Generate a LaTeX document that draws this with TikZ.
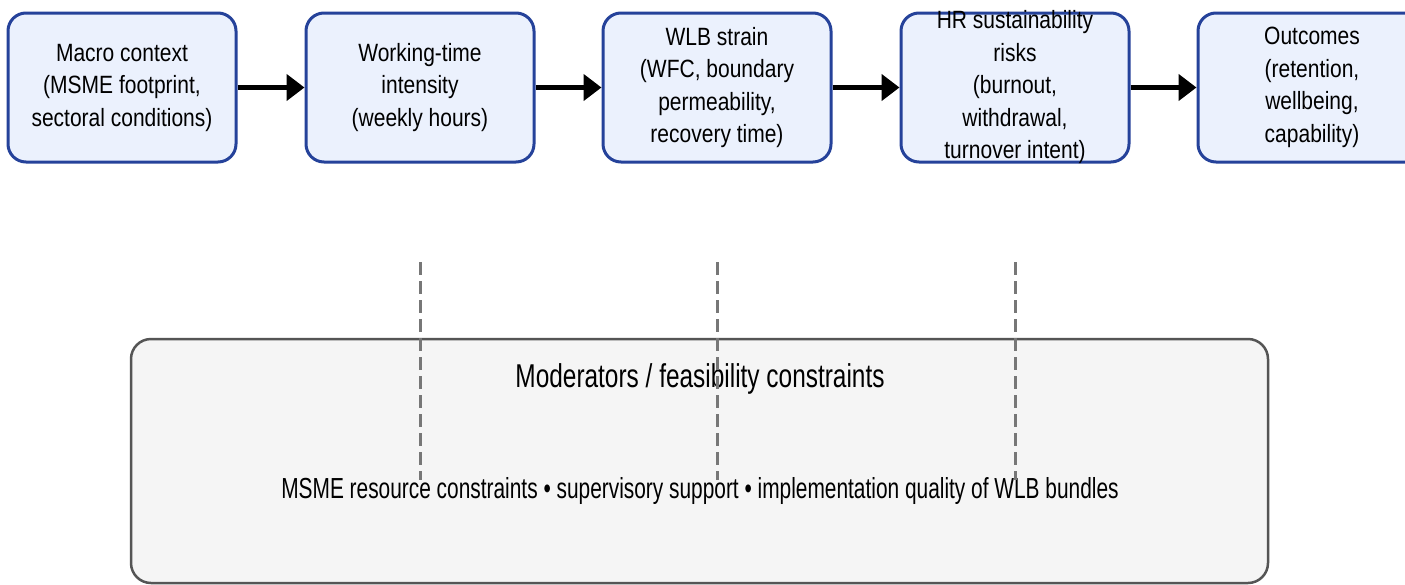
\documentclass[tikz,border=0pt]{standalone}
\usepackage{fontspec}
\setmainfont{Liberation Sans}[FakeStretch=0.84]
\newfontfamily\stagefont{Liberation Sans}[FakeStretch=0.84]
\newfontfamily\modbodyfont{Liberation Sans}[FakeStretch=0.72]
\newfontfamily\modtitlefont{Liberation Sans}[FakeStretch=0.74]
\usetikzlibrary{arrows.meta}
\definecolor{boxfill}{HTML}{EBF1FD}
\definecolor{boxline}{HTML}{25429A}
\definecolor{modfill}{HTML}{F5F5F5}
\definecolor{modline}{HTML}{555555}
\definecolor{dashcol}{HTML}{777777}
\tikzset{
  stagebox/.style={draw=boxline, fill=boxfill, line width=3pt, rounded corners=18pt,
    minimum width=228pt, minimum height=149pt, inner sep=0pt},
  stagetext/.style={align=center, inner sep=0pt,
    font=\stagefont\fontsize{25}{32.5}\selectfont},
  flowarrow/.style={draw=black, line width=5pt, -{Triangle[length=18pt,width=26pt]}},
  modbox/.style={draw=modline, fill=modfill, line width=2.5pt, rounded corners=20pt,
    minimum width=1137pt, minimum height=244pt, inner sep=0pt},
  moddash/.style={draw=dashcol, line width=3pt, dash pattern=on 13pt off 6pt},
  titletext/.style={font=\modtitlefont\fontsize{33}{38}\selectfont, inner sep=0pt, anchor=base},
  bodytext/.style={font=\modbodyfont\fontsize{29}{34}\selectfont, inner sep=0pt, anchor=base}
}
\begin{document}
\begin{tikzpicture}[x=1pt,y=-1pt]
\useasboundingbox (0,0) rectangle (1405,584);
\clip (0,0) rectangle (1405,584);
\fill[white] (0,0) rectangle (1405,584);
\node[stagebox] (b1) at (122,87.5) {};
\node[stagebox] (b2) at (420,87.5) {};
\node[stagebox] (b3) at (717,87.5) {};
\node[stagebox] (b4) at (1015,87.5) {};
\node[stagebox] (b5) at (1312,87.5) {};
\node[stagetext] (t1) at (b1.center) {Macro context\\(MSME footprint,\\sectoral conditions)};
\node[stagetext] (t2) at (b2.center) {Working-time\\intensity\\(weekly hours)};
\node[stagetext] (t3) at (b3.center) {WLB strain\\(WFC, boundary\\permeability,\\recovery time)};
\node[stagetext] (t4) at (b4.center) {HR sustainability\\risks\\(burnout,\\withdrawal,\\turnover intent)};
\node[stagetext] (t5) at (b5.center) {Outcomes\\(retention,\\wellbeing,\\capability)};
\draw[flowarrow] (b1.east) -- (b2.west);
\draw[flowarrow] (b2.east) -- (b3.west);
\draw[flowarrow] (b3.east) -- (b4.west);
\draw[flowarrow] (b4.east) -- (b5.west);
\node[modbox] (mod) at (699.5,461) {};
\node[titletext] (modtitle) at (700,387) {Moderators / feasibility constraints};
\node[bodytext] (modbody) at (700,498) {MSME resource constraints • supervisory support • implementation quality of WLB bundles};
\coordinate (d1t) at (420,262); \coordinate (d1b) at (420,480);
\coordinate (d2t) at (717,262); \coordinate (d2b) at (717,480);
\coordinate (d3t) at (1015,262); \coordinate (d3b) at (1015,480);
\draw[moddash] (d1t) -- (d1b);
\draw[moddash] (d2t) -- (d2b);
\draw[moddash] (d3t) -- (d3b);
\end{tikzpicture}
\end{document}
